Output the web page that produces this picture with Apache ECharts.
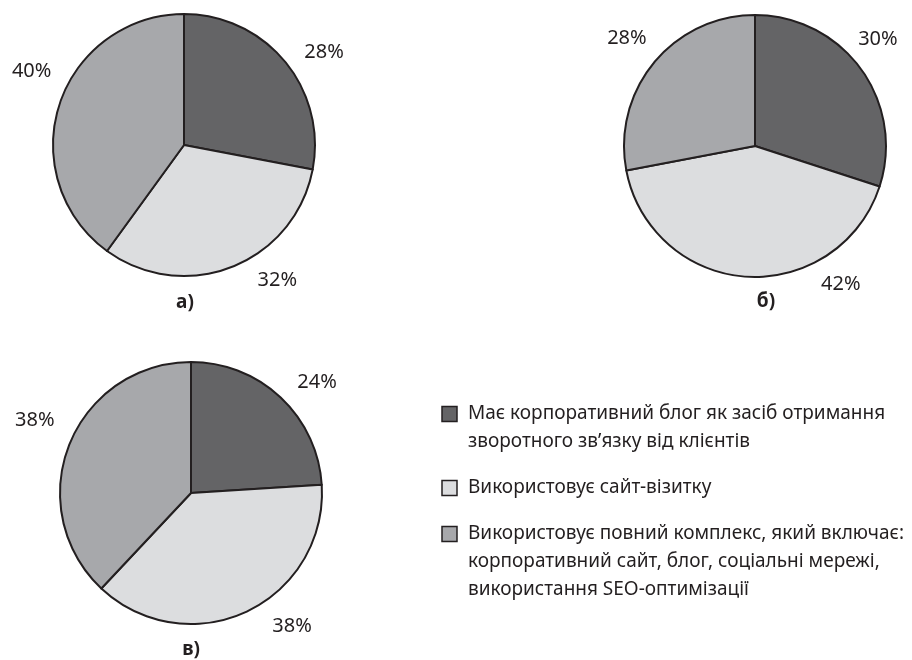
<!DOCTYPE html>
<html>
<head>
<meta charset="utf-8">
<script src="https://cdn.jsdelivr.net/npm/echarts@6/dist/echarts.min.js"></script>
<style>
  html, body { margin: 0; padding: 0; background: #fff; }
  #chart { width: 912px; height: 660px; }
</style>
</head>
<body>
<div id="chart"></div>
<script>
// категорії (легенда)
const categories = [
  "Має корпоративний блог як засіб отримання\nзворотного зв’язку від клієнтів",
  "Використовує сайт-візитку",
  "Використовує повний комплекс, який включає:\nкорпоративний сайт, блог, соціальні мережі,\nвикористання SEO-оптимізації"
];
// підписи діаграм
const pieNames = ["а)", "б)", "в)"];
// частки, %
const shareA = [28, 32, 40];
const shareB = [30, 42, 28];
const shareC = [24, 38, 38];

const colors = ["#646466", "#dcdddf", "#a7a8ab"];
const ink = "#231f20";

// розміщення діаграм
const pies = [
  { values: shareA, center: [184, 145], title: [185, 303], shift: [[-1, 4], [13, -5], [16, -27]] },
  { values: shareB, center: [755, 146], title: [766, 302], shift: [[-24, -18], [120, -12], [13, -11]] },
  { values: shareC, center: [191, 493], title: [191, 650], shift: [[-2, -1], [12, -3], [9, -17]] }
];

// легенда: малюємо вручну, щоб квадрат стояв біля першого рядка
const lineH = 28;
const legendItems = [];
let ly = 400;
categories.forEach((name, i) => {
  const lines = name.split("\n").length;
  legendItems.push({
    type: "rect",
    shape: { x: 442, y: ly + lineH / 2 - 7.5, width: 15, height: 15 },
    style: { fill: colors[i], stroke: ink, lineWidth: 1.5 }
  });
  legendItems.push({
    type: "text",
    x: 468,
    y: ly,
    style: {
      text: name,
      fontFamily: "Noto Sans",
      fontSize: 19,
      lineHeight: lineH,
      fill: ink,
      verticalAlign: "top"
    }
  });
  ly += lines * lineH + 18;
});

const chart = echarts.init(document.getElementById("chart"));

const option = {
  animation: false,
  color: colors,
  textStyle: { fontFamily: "Noto Sans", color: ink },
  title: pies.map((p, i) => ({
    text: pieNames[i],
    left: p.title[0],
    top: p.title[1],
    padding: 0,
    textAlign: "center",
    textVerticalAlign: "middle",
    textStyle: { fontFamily: "Noto Sans", fontSize: 19, fontWeight: "bold", color: ink }
  })),
  graphic: { elements: legendItems },
  series: pies.map((p) => ({
    type: "pie",
    center: p.center,
    radius: 131,
    startAngle: 90,
    clockwise: true,
    avoidLabelOverlap: false,
    emphasis: { disabled: true },
    itemStyle: { borderColor: ink, borderWidth: 2 },
    label: {
      show: true,
      position: "outside",
      formatter: "{c}%",
      fontFamily: "Noto Sans",
      fontSize: 20,
      color: ink
    },
    labelLine: { show: false, length: 20, length2: 0 },
    labelLayout: (params) => ({ dx: p.shift[params.dataIndex][0], dy: p.shift[params.dataIndex][1] }),
    data: p.values.map((v, j) => ({ name: categories[j], value: v }))
  }))
};

chart.setOption(option);
</script>
</body>
</html>
